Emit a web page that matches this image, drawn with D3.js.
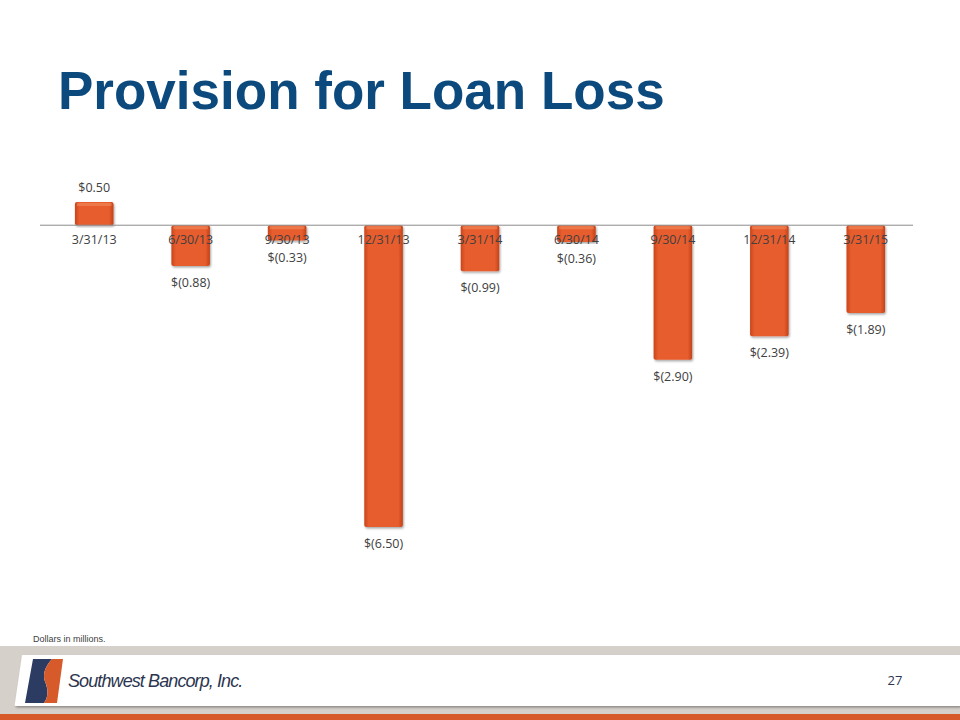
<!DOCTYPE html>
<html>
<head>
<meta charset="utf-8">
<script src="https://cdn.jsdelivr.net/npm/d3@7"></script>
<style>
  html, body { margin: 0; padding: 0; background: #ffffff; }
  svg { display: block; }
</style>
</head>
<body>
<svg id="chart" width="960" height="720"></svg>
<script>
const categories = ["3/31/13", "6/30/13", "9/30/13", "12/31/13", "3/31/14", "6/30/14", "9/30/14", "12/31/14", "3/31/15"];
const provision = [0.50, -0.88, -0.33, -6.50, -0.99, -0.36, -2.90, -2.39, -1.89];
const valueLabels = ["$0.50", "$(0.88)", "$(0.33)", "$(6.50)", "$(0.99)", "$(0.36)", "$(2.90)", "$(2.39)", "$(1.89)"];

const svg = d3.select("#chart");
const defs = svg.append("defs");

const g1 = defs.append("linearGradient").attr("id", "barGrad").attr("x1", "0").attr("x2", "1").attr("y1", "0").attr("y2", "0");
g1.append("stop").attr("offset", "0%").attr("stop-color", "#c9461c");
g1.append("stop").attr("offset", "12%").attr("stop-color", "#e85d2e");
g1.append("stop").attr("offset", "88%").attr("stop-color", "#e85d2e");
g1.append("stop").attr("offset", "100%").attr("stop-color", "#c24219");

const sh = defs.append("filter").attr("id", "shadow").attr("x", "-20%").attr("y", "-5%").attr("width", "140%").attr("height", "115%");
sh.append("feDropShadow").attr("dx", 1).attr("dy", 1.5).attr("stdDeviation", 1.2).attr("flood-color", "#000").attr("flood-opacity", 0.35);

// Title
svg.append("text")
  .attr("x", 58).attr("y", 109)
  .attr("font-family", "Liberation Sans, Arial, sans-serif")
  .attr("font-weight", "bold")
  .attr("font-size", 53)
  .attr("fill", "#0c4a7d")
  .text("Provision for Loan Loss");

// Scales
const x = d3.scaleBand().domain(categories).range([46, 914]).paddingInner(0.6).paddingOuter(0.3);
const y = d3.scaleLinear().domain([-6.5, 0.5]).range([527, 202]);

const bw = x.bandwidth();
svg.append("g").selectAll("rect")
  .data(provision)
  .join("rect")
  .attr("x", (d, i) => x(categories[i]))
  .attr("y", d => Math.min(y(d), y(0)))
  .attr("width", bw)
  .attr("height", d => Math.abs(y(d) - y(0)))
  .attr("rx", 2)
  .attr("fill", "url(#barGrad)")
  .attr("filter", "url(#shadow)");

svg.append("g").selectAll("rect")
  .data(provision)
  .join("rect")
  .attr("x", (d, i) => x(categories[i]) + 2)
  .attr("y", d => Math.min(y(d), y(0)) + 1)
  .attr("width", bw - 4)
  .attr("height", 3)
  .attr("fill", "#f08a5c")
  .attr("opacity", 0.6);

const axis = d3.axisBottom(x).tickSize(0).tickPadding(10);
const axG = svg.append("g").attr("transform", `translate(0,${y(0)})`).call(axis);
axG.select(".domain").attr("d", `M40,0H913`).attr("stroke", "#8c8c8c").attr("stroke-width", 1);
axG.selectAll("text")
  .attr("font-family", "Open Sans, Lato, sans-serif")
  .attr("font-size", 12.5)
  .attr("fill", "#404040");

svg.append("g").selectAll("text")
  .data(provision)
  .join("text")
  .attr("x", (d, i) => x(categories[i]) + bw / 2)
  .attr("y", d => d >= 0 ? y(d) - 10 : y(d) + 21)
  .attr("text-anchor", "middle")
  .attr("font-family", "Open Sans, Lato, sans-serif")
  .attr("font-size", 12.5)
  .attr("fill", "#404040")
  .text((d, i) => valueLabels[i]);

svg.append("text")
  .attr("x", 33).attr("y", 642)
  .attr("font-family", "Liberation Sans Narrow, Liberation Sans, sans-serif")
  .attr("font-size", 9)
  .attr("fill", "#404040")
  .text("Dollars in millions.");

// Footer
svg.append("rect").attr("x", 0).attr("y", 646).attr("width", 960).attr("height", 68).attr("fill", "#d6d0cb");
svg.append("rect").attr("x", 0).attr("y", 714).attr("width", 960).attr("height", 6).attr("fill", "#d75a2b");
svg.append("path")
  .attr("d", "M22,655 L960,655 L960,706 L16,706 Q14,706 15,703 Z")
  .attr("fill", "#ffffff")
  .attr("filter", "url(#shadow)");

const logo = svg.append("g");
logo.append("path").attr("d", "M33,659 L52,659 Q40,672 46,684 Q50,695 44,703 L25,703 Z").attr("fill", "#2c3b62");
logo.append("path").attr("d", "M52,659 L63,659 L57,703 L44,703 Q50,695 46,684 Q40,672 52,659 Z").attr("fill", "#d75a2b");
logo.append("text")
  .attr("x", 68).attr("y", 687)
  .attr("font-family", "Liberation Sans, Arial, sans-serif")
  .attr("font-style", "italic")
  .attr("font-size", 18)
  .attr("letter-spacing", -0.9)
  .attr("fill", "#2c3550")
  .text("Southwest Bancorp, Inc.");

svg.append("text")
  .attr("x", 895).attr("y", 685)
  .attr("text-anchor", "middle")
  .attr("font-family", "Open Sans, Lato, sans-serif")
  .attr("font-size", 13)
  .attr("fill", "#2c3550")
  .text("27");
</script>
</body>
</html>
